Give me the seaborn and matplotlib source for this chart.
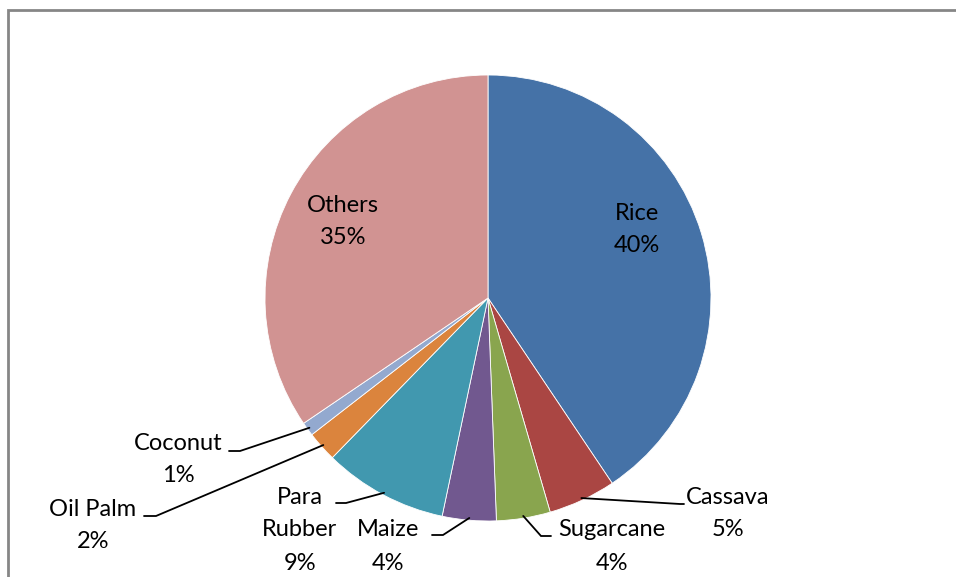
import numpy as np
import matplotlib
matplotlib.use("Agg")
import matplotlib.pyplot as plt
import matplotlib.patches as mpatches
import seaborn as sns

# ---- data ----
crops = ["Rice", "Cassava", "Sugarcane", "Maize", "Para Rubber", "Oil Palm", "Coconut", "Others"]
shares = [40.6, 4.9, 3.9, 3.9, 9.0, 2.2, 1.0, 34.5]
pct_labels = ["40%", "5%", "4%", "4%", "9%", "2%", "1%", "35%"]
name_lines = [["Rice"], ["Cassava"], ["Sugarcane"], ["Maize"], ["Para", "Rubber"],
              ["Oil Palm"], ["Coconut"], ["Others"]]
colors = ["#4572A7", "#AA4643", "#89A54E", "#71588F", "#4198AF", "#DB843D", "#93A9CF", "#D19392"]

# ---- layout (pixels) ----
W, H = 956, 577
CX, CY, R = 488, 298, 223
# text block top-line centre (px), leader elbow (px), leader end (px); None = inside label
label_pos = [(637, 213), (728, 497), (612, 530), (388, 530), (300, 497), (93, 509), (178, 443), (343, 205)]
elbow = [None, (680, 504), (541, 536), (443, 535), (346, 503), (156, 516), (240, 451), None]
tail = [None, (684, 504), (551, 536), (432, 535), (336, 503), (144, 516), (229, 451), None]
LINE = 33

sns.set_theme(style="white")
plt.rcParams["font.family"] = ["Lato", "DejaVu Sans"]

fig = plt.figure(figsize=(W / 100, H / 100), dpi=100)
ax = fig.add_axes([(CX - R) / W, (H - CY - R) / H, 2 * R / W, 2 * R / H])

wedges, _ = ax.pie(shares, colors=colors, startangle=90, counterclock=False, radius=1.0,
                   wedgeprops=dict(linewidth=0.6, edgecolor="white"))
ax.set_xlim(-1, 1)
ax.set_ylim(-1, 1)
ax.set_aspect("equal")
ax.axis("off")


def px(x, y):
    return ((x - CX) / R, (CY - y) / R)


FS = 17
for i, w in enumerate(wedges):
    lx, ly = label_pos[i]
    lines = name_lines[i] + [pct_labels[i]]
    for k, t in enumerate(lines):
        x, y = px(lx, ly + k * LINE)
        ax.text(x, y, t, ha="center", va="center", fontsize=FS, color="black", clip_on=False)
    if elbow[i] is not None:
        mid = np.deg2rad((w.theta1 + w.theta2) / 2)
        sx, sy = np.cos(mid) * 0.99, np.sin(mid) * 0.99
        ex, ey = px(*elbow[i])
        tx, ty = px(*tail[i])
        ax.plot([sx, ex, tx], [sy, ey, ty], color="black", lw=1.3, clip_on=False,
                solid_joinstyle="miter")

# outer chart frame (cut at right and bottom)
frame = mpatches.Rectangle((8 / W, -0.1), 1.2, (H - 10) / H + 0.1, transform=fig.transFigure,
                           fill=False, edgecolor="#868686", linewidth=2)
fig.patches.append(frame)

fig.savefig("out.png", dpi=100)
